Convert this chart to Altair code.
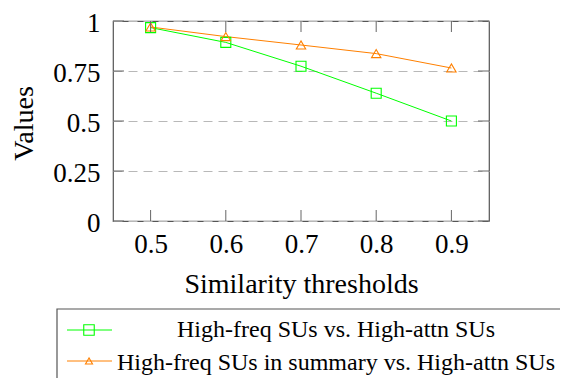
import altair as alt
import pandas as pd

thresholds = [0.5, 0.6, 0.7, 0.8, 0.9]
series_names = ["High-freq SUs vs. High-attn SUs",
                "High-freq SUs in summary vs. High-attn SUs"]
freq_vs_attn = [0.967, 0.893, 0.774, 0.639, 0.5]
summary_vs_attn = [0.97, 0.922, 0.88, 0.837, 0.765]
x_ticks = [0.5, 0.6, 0.7, 0.8, 0.9]
y_ticks = [0, 0.25, 0.5, 0.75, 1]
x_title = "Similarity thresholds"
y_title = "Values"
colors = ["#00ff00", "#ff8000"]
shapes = ["square", "triangle-up"]

df = pd.DataFrame({
    "threshold": thresholds * 2,
    "value": freq_vs_attn + summary_vs_attn,
    "series": [series_names[0]] * len(thresholds) + [series_names[1]] * len(thresholds),
})

W, H = 376, 200
FONT = "Liberation Serif"
TICK_COLOR = "#666666"

x_scale = alt.Scale(domain=[0.45, 0.95], nice=False, zero=False)
y_scale = alt.Scale(domain=[0, 1], nice=False, zero=False)
color_scale = alt.Scale(domain=series_names, range=colors)
shape_scale = alt.Scale(domain=series_names, range=shapes)
size_scale = alt.Scale(domain=series_names, range=[100, 88])

x_axis = alt.Axis(values=x_ticks, format=".1f", tickSize=0, domain=False, grid=False,
                  labelFont=FONT, labelFontSize=27, labelColor="black",
                  labelBaseline="alphabetic", labelPadding=31, labelFlush=False,
                  labelOverlap=False,
                  title=x_title, titleFont=FONT, titleFontSize=28, titleFontWeight="normal",
                  titleColor="black", titleX=W / 2, titleY=71, titleAlign="center",
                  titleBaseline="alphabetic")
y_axis = alt.Axis(values=y_ticks, format=".2~f", tickSize=0, domain=False, grid=True,
                  gridDash=[9, 6], gridColor="#b8b8b8", gridWidth=1,
                  labelFont=FONT, labelFontSize=27, labelColor="black",
                  labelBaseline="middle", labelPadding=13, labelFlush=False,
                  labelOverlap=False, labelOffset=2,
                  title=y_title, titleFont=FONT, titleFontSize=28, titleFontWeight="normal",
                  titleColor="black", titleAngle=-90, titleX=-81, titleY=102,
                  titleAlign="center", titleBaseline="alphabetic")

base = alt.Chart(df)

lines = base.mark_line(strokeWidth=1).encode(
    x=alt.X("threshold:Q", scale=x_scale, axis=x_axis),
    y=alt.Y("value:Q", scale=y_scale, axis=y_axis),
    color=alt.Color("series:N", scale=color_scale, legend=None),
)
points = base.mark_point(filled=False, strokeWidth=1.1, opacity=1).encode(
    x=alt.X("threshold:Q", scale=x_scale, axis=x_axis),
    y=alt.Y("value:Q", scale=y_scale, axis=y_axis),
    color=alt.Color("series:N", scale=color_scale, legend=None),
    shape=alt.Shape("series:N", scale=shape_scale, legend=None),
    size=alt.Size("series:N", scale=size_scale, legend=None),
)

xt = pd.DataFrame({"threshold": x_ticks})
yt = pd.DataFrame({"value": y_ticks})
xtick_bottom = alt.Chart(xt).mark_rule(color=TICK_COLOR, strokeWidth=1).encode(
    x=alt.X("threshold:Q", scale=x_scale, axis=x_axis), y=alt.value(H), y2=alt.value(H - 11))
xtick_top = alt.Chart(xt).mark_rule(color=TICK_COLOR, strokeWidth=1).encode(
    x=alt.X("threshold:Q", scale=x_scale, axis=x_axis), y=alt.value(0), y2=alt.value(11))
ytick_left = alt.Chart(yt).mark_rule(color=TICK_COLOR, strokeWidth=1).encode(
    y=alt.Y("value:Q", scale=y_scale, axis=y_axis), x=alt.value(0), x2=alt.value(11))
ytick_right = alt.Chart(yt).mark_rule(color=TICK_COLOR, strokeWidth=1).encode(
    y=alt.Y("value:Q", scale=y_scale, axis=y_axis), x=alt.value(W - 11), x2=alt.value(W))

one = pd.DataFrame({"k": [0]})
legend_box = alt.Chart(one).mark_rect(fill="white", stroke="#555555", strokeWidth=1.2).encode(
    x=alt.value(-56), x2=alt.value(480), y=alt.value(288), y2=alt.value(420))

legend_layers = []
row_y = [309, 340]
text_y = [316, 349]
marker_sizes = [110, 50]
for i, name in enumerate(series_names):
    legend_layers.append(alt.Chart(one).mark_rule(color=colors[i], strokeWidth=1).encode(
        x=alt.value(-46), x2=alt.value(-1), y=alt.value(row_y[i])))
    legend_layers.append(alt.Chart(one).mark_point(
        shape=shapes[i], filled=False, color=colors[i], strokeWidth=1.1, opacity=1,
        size=marker_sizes[i]).encode(x=alt.value(-24), y=alt.value(row_y[i])))
    legend_layers.append(alt.Chart(one).mark_text(
        font=FONT, fontSize=24, align="center", baseline="alphabetic", color="black").encode(
        x=alt.value(223), y=alt.value(text_y[i]), text=alt.value(name)))

chart = alt.layer(
    lines, points, xtick_bottom, xtick_top, ytick_left, ytick_right, legend_box, *legend_layers
).properties(
    width=W, height=H,
    autosize=alt.AutoSizeParams(type="none"),
    padding={"left": 105, "top": 13, "right": 71, "bottom": 157},
    background="white",
).configure_view(stroke="#555555", strokeWidth=1.2)

chart.save("out.html", embed_options={"renderer": "svg", "actions": False})
